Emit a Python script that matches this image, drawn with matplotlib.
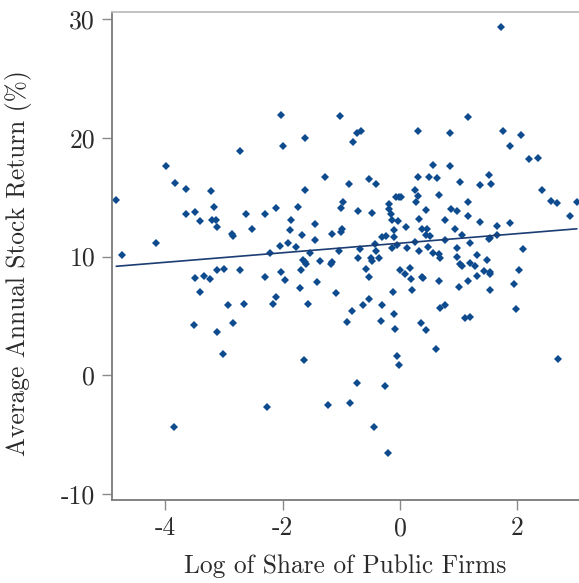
import numpy as np
import matplotlib
matplotlib.use("Agg")
import matplotlib.pyplot as plt

plt.rcParams['font.family'] = 'cmr10'
plt.rcParams['mathtext.fontset'] = 'cm'
plt.rcParams['axes.unicode_minus'] = False

# log share of public firms vs average annual stock return (%)
log_share = [
    -3.99, -2.72, -2.02, -2.00, -1.62, -1.03, -1.27, 1.72, 1.16, -0.74,
    -0.67, -0.80, 0.30, 0.85, 1.76, 2.07, 1.88, 2.20, 2.36, 0.57,
    0.85, 1.51, 0.30, 0.49, 0.63, -0.52, -0.86, -0.41, 1.02, 1.36,
    1.55, 2.42, 2.57, 2.68, 3.01, 2.89, 0.26, 0.31, 0.28, 0.67,
    -0.07, -0.02, 0.02, -0.97, -1.00, -0.19, -0.19, -0.15, -0.14, -0.03,
    -0.47, -0.72, 0.44, 0.32, 0.87, 0.97, 1.16, 1.16, 1.36, 0.77,
    1.66, 1.87, -0.98, -1.00, -0.11, 0.10, 0.37, 0.46, 0.44, 0.52,
    0.93, 1.06, 1.51, 1.53, 1.66, -0.31, -0.23, -0.10, -0.42, -0.05,
    0.26, 0.76, 1.20, -0.68, -0.41, -0.13, 0.12, 0.32, 0.48, 0.97,
    2.09, 0.57, 0.66, 0.69, 0.98, 1.32, 1.48, -0.72, -0.50, -0.48,
    -0.35, 1.02, 1.06, 1.19, 1.27, -0.58, -0.53, 0.00, 0.17, 0.085,
    0.19, 0.37, 0.39, 0.66, 1.31, 1.44, 1.54, 1.53, 2.03, 1.16,
    1.01, 1.54, 1.94, 0.20, -0.12, -0.53, -0.63, -0.31, -0.82, -0.91,
    -0.11, -0.32, -0.08, 0.36, 0.44, 0.68, 0.77, 1.11, 1.20, 1.97,
    -4.83, -4.74, -4.16, -3.83, -3.64, -3.65, -3.49, -3.41, -3.22, -3.17,
    -3.21, -3.13, -3.12, -2.86, -2.84, -2.63, -2.52, -2.30, -2.12, -1.74,
    -1.61, -1.86, -1.88, -1.44, -1.67, -1.44, -1.15, -1.91, -2.05, -1.77,
    -2.21, -1.53, -1.04, -1.65, -1.62, -1.60, -1.37, -1.18, -1.15, -1.68,
    -2.02, -1.95, -1.41, -1.70, -1.09, -2.30, -2.11, -2.16, -1.57, -3.12,
    -3.00, -2.73, -3.49, -3.34, -3.23, -3.40, -2.93, -2.65, -3.51, -2.85,
    -3.11, -3.02, -1.63, -2.26, -1.22, -3.85, 0.61, -0.05, -0.02, 2.69,
    -0.74, -0.26, -0.85, -0.44, -0.21,
]
stock_return = [
    17.6, 18.9, 21.9, 19.3, 20.0, 21.8, 16.7, 29.3, 21.7, 20.4,
    20.6, 19.6, 20.6, 20.4, 20.6, 20.2, 19.3, 18.2, 18.3, 17.7,
    17.6, 16.9, 16.7, 16.7, 16.6, 16.5, 16.1, 16.1, 16.3, 16.0,
    16.1, 15.6, 14.7, 14.5, 14.6, 13.4, 15.6, 15.1, 14.6, 15.2,
    15.0, 15.0, 15.0, 14.6, 14.1, 14.4, 14.0, 13.55, 13.1, 13.0,
    13.7, 13.8, 13.9, 13.2, 14.0, 13.8, 14.6, 13.4, 12.9, 13.1,
    12.6, 12.8, 12.3, 12.1, 12.2, 12.5, 12.3, 12.3, 11.8, 11.7,
    12.3, 11.8, 11.5, 11.6, 11.8, 11.65, 11.7, 11.65, 11.05, 11.0,
    11.2, 11.4, 11.1, 10.6, 10.5, 10.7, 10.7, 10.5, 10.8, 10.7,
    10.6, 10.3, 10.2, 9.9, 10.0, 10.15, 9.7, 9.9, 9.85, 9.65,
    9.9, 9.4, 9.2, 9.45, 9.2, 8.95, 8.25, 8.9, 9.05, 8.5,
    8.15, 8.3, 8.2, 7.95, 8.35, 8.8, 8.7, 8.5, 8.9, 7.97,
    7.4, 7.2, 7.65, 7.2, 7.05, 6.45, 5.9, 5.95, 5.4, 4.5,
    5.2, 4.55, 3.9, 4.45, 3.8, 5.7, 5.9, 4.8, 4.9, 5.55,
    14.8, 10.1, 11.1, 16.15, 15.7, 13.6, 13.75, 12.95, 15.5, 14.15,
    13.1, 13.1, 12.5, 11.9, 11.75, 13.6, 12.3, 13.6, 14.05, 14.15,
    15.6, 13.1, 12.2, 12.7, 11.8, 11.4, 11.9, 11.1, 10.85, 10.8,
    10.3, 10.3, 10.5, 9.75, 9.55, 9.4, 9.6, 9.35, 9.55, 8.85,
    8.7, 8.0, 7.9, 7.35, 6.95, 8.25, 6.6, 6.05, 6.05, 8.85,
    8.95, 8.9, 8.2, 8.4, 8.1, 7.0, 5.95, 6.05, 4.2, 4.4,
    3.65, 1.8, 1.3, -2.65, -2.45, -4.3, 2.2, 1.6, 0.9, 1.4,
    -0.67, -0.9, -2.3, -4.3, -6.5,
]

x_ticks = [-4, -2, 0, 2]
y_ticks = [-10, 0, 10, 20, 30]

x = np.array(log_share)
y = np.array(stock_return)

fig = plt.figure(figsize=(5.79, 5.83), dpi=100)
ax = fig.add_axes([0.193, 0.1424, 0.807, 0.8365])

ax.plot(x, y, linestyle='none', marker='D', markersize=4.3,
        color='#0e4a8e', markeredgewidth=0)

# least squares fit line
slope, intercept = np.polyfit(x, y, 1)
xs = np.array([x.min(), x.max()])
ax.plot(xs, intercept + slope * xs, color='#1b3d73', linewidth=1.2)

ax.set_xlim(-4.91, 3.05)
ax.set_ylim(-10.48, 30.55)
ax.set_xticks(x_ticks)
ax.set_xticklabels([str(t) for t in x_ticks])
ax.set_yticks(y_ticks)
ax.set_yticklabels([str(t) for t in y_ticks])

ax.spines['right'].set_visible(False)
ax.spines['left'].set_color('#7a7a7a')
ax.spines['bottom'].set_color('#7a7a7a')
ax.spines['top'].set_color('#bdbdbd')
for s in ['left', 'bottom', 'top']:
    ax.spines[s].set_linewidth(1.3)

ax.tick_params(axis='both', direction='out', length=7, width=1.0,
               color='#8a8a8a', labelsize=18.5, labelcolor='#2a2a2a', pad=5)

ax.set_xlabel('Log of Share of Public Firms', fontsize=18.3, color='#2a2a2a')
ax.set_ylabel('Average Annual Stock Return (%)', fontsize=18.3, color='#2a2a2a')
ax.xaxis.set_label_coords(0.5, -0.112)
ax.yaxis.set_label_coords(-0.17, 0.485)

fig.savefig('out.png', dpi=100)
